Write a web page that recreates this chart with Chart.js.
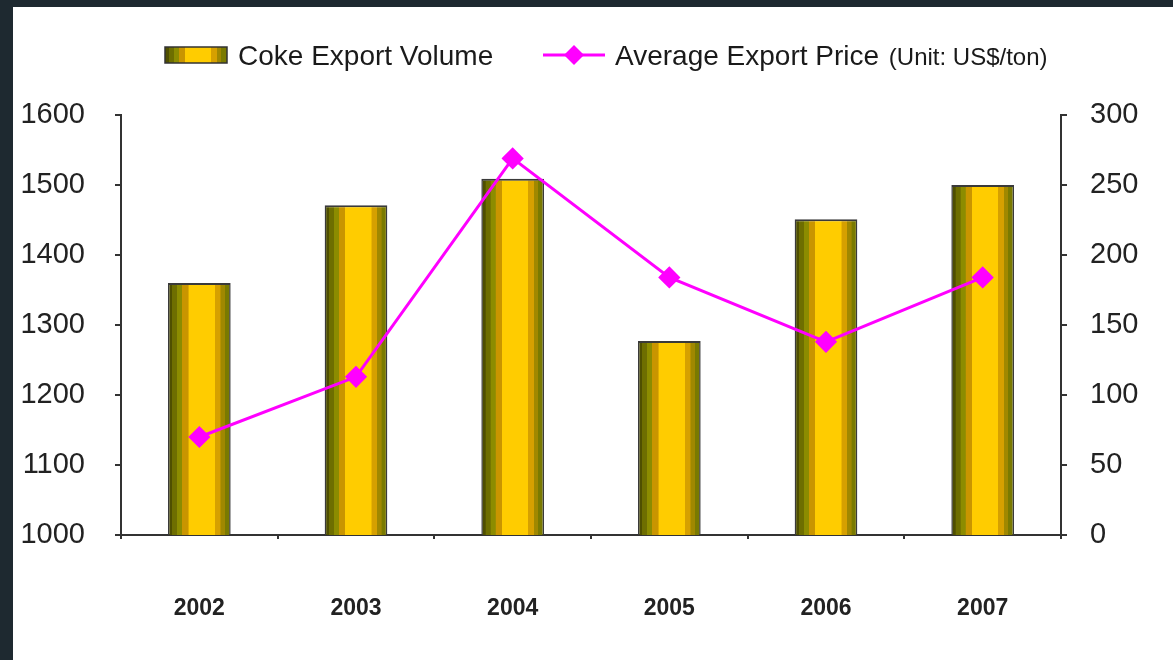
<!DOCTYPE html>
<html>
<head>
<meta charset="utf-8">
<script src="https://cdn.jsdelivr.net/npm/chart.js@4/dist/chart.umd.min.js"></script>
<style>
  html, body { margin: 0; padding: 0; background: #1e2930; width: 1173px; height: 660px; overflow: hidden; }
  #wrap { position: absolute; left: 13px; top: 7px; width: 1160px; height: 653px; background: #ffffff; }
</style>
</head>
<body>
<div id="wrap"><canvas id="c"></canvas></div>
<script>
const categories = ['2002', '2003', '2004', '2005', '2006', '2007'];
const exportVolume = [1360, 1471, 1509, 1277, 1451, 1500];
const exportPrice = [70, 113, 269, 184, 138, 184];
const leftTicks = [1000, 1100, 1200, 1300, 1400, 1500, 1600];
const rightTicks = [0, 50, 100, 150, 200, 250, 300];
const volumeLabel = 'Coke Export Volume';
const priceLabel = 'Average Export Price ';
const priceUnit = '(Unit: US$/ton)';

const BAR_FRACTION = 0.4;
const bands = [
  [0.00, '#4f4f00'], [0.07, '#6e6e00'], [0.15, '#8c8c00'], [0.23, '#c99500'],
  [0.33, '#ffcc00'], [0.68, '#ffcc00'], [0.75, '#d6a000'], [0.84, '#a08800'],
  [0.91, '#7a7a00'], [1.00, '#555500']
];
function barGradient(ctx, left, right) {
  const g = ctx.createLinearGradient(left, 0, right, 0);
  for (let i = 0; i < bands.length; i++) {
    g.addColorStop(bands[i][0], bands[i][1]);
    if (i < bands.length - 1) g.addColorStop(Math.max(bands[i][0], bands[i + 1][0] - 0.005), bands[i][1]);
  }
  return g;
}

const legendPlugin = {
  id: 'customLegend',
  afterDraw(chart) {
    const ctx = chart.ctx;
    ctx.save();
    const bx = 152, by = 40, bw = 62, bh = 16;
    ctx.fillStyle = barGradient(ctx, bx, bx + bw);
    ctx.fillRect(bx, by, bw, bh);
    ctx.strokeStyle = '#333';
    ctx.lineWidth = 1.5;
    ctx.strokeRect(bx, by, bw, bh);
    ctx.fillStyle = '#1a1a1a';
    ctx.textBaseline = 'middle';
    ctx.textAlign = 'left';
    ctx.font = '28px "Liberation Sans", Arial, sans-serif';
    ctx.fillText(volumeLabel, 225, 50);
    ctx.strokeStyle = '#ff00ff';
    ctx.lineWidth = 3;
    ctx.beginPath(); ctx.moveTo(530, 48); ctx.lineTo(592, 48); ctx.stroke();
    ctx.fillStyle = '#ff00ff';
    ctx.beginPath();
    ctx.moveTo(561, 38); ctx.lineTo(571, 48); ctx.lineTo(561, 58); ctx.lineTo(551, 48); ctx.closePath();
    ctx.fill();
    ctx.fillStyle = '#1a1a1a';
    ctx.font = '28px "Liberation Sans", Arial, sans-serif';
    ctx.fillText(priceLabel, 602, 50);
    const w = ctx.measureText(priceLabel).width;
    ctx.font = '24px "Liberation Sans", Arial, sans-serif';
    ctx.fillText(priceUnit, 602 + w + 2, 51);
    ctx.restore();
  }
};

const tickFont = { family: '"Liberation Sans", Arial, sans-serif', size: 29 };
const plain = (v) => String(v);

new Chart(document.getElementById('c'), {
  type: 'bar',
  data: {
    labels: categories,
    datasets: [
      {
        type: 'line',
        label: priceLabel + priceUnit,
        data: exportPrice,
        yAxisID: 'y1',
        borderColor: '#ff00ff',
        backgroundColor: '#ff00ff',
        borderWidth: 3,
        pointStyle: 'rectRot',
        pointRadius: 9,
        pointHoverRadius: 9,
        pointBackgroundColor: '#ff00ff',
        pointBorderColor: '#ff00ff',
        tension: 0,
        order: 0
      },
      {
        type: 'bar',
        label: volumeLabel,
        data: exportVolume,
        yAxisID: 'y',
        barPercentage: BAR_FRACTION,
        categoryPercentage: 1,
        borderColor: '#3a3a3a',
        borderWidth: { top: 2, left: 1.5, right: 1.5, bottom: 0 },
        borderSkipped: 'bottom',
        backgroundColor: (c) => {
          const chart = c.chart;
          const xs = chart.scales && chart.scales.x;
          if (!xs || c.type !== 'data' || !chart.chartArea) return '#ffcc00';
          const cx = xs.getPixelForValue(c.dataIndex);
          const w = (xs.width / categories.length) * BAR_FRACTION;
          return barGradient(chart.ctx, cx - w / 2, cx + w / 2);
        },
        order: 1
      }
    ]
  },
  options: {
    responsive: true,
    maintainAspectRatio: false,
    animation: false,
    layout: { padding: { top: 108, left: 0, right: 0, bottom: 0 } },
    plugins: { legend: { display: false }, tooltip: { enabled: false } },
    scales: {
      x: {
        offset: true,
        grid: { drawOnChartArea: false, drawTicks: true, tickLength: 4, color: '#333', lineWidth: 2, offset: true },
        border: { display: true, color: '#333', width: 2 },
        ticks: { color: '#222', padding: 56, font: { family: '"Liberation Sans", Arial, sans-serif', size: 23, weight: 'bold' } },
        afterFit: (s) => { s.height = 125; }
      },
      y: {
        position: 'left',
        min: 1000, max: 1600,
        afterBuildTicks: (s) => { s.ticks = leftTicks.map(v => ({ value: v })); },
        grid: { drawOnChartArea: false, drawTicks: true, tickLength: 6, color: '#333', lineWidth: 2 },
        border: { display: true, color: '#333', width: 2 },
        ticks: { color: '#222', padding: 30, font: tickFont, callback: plain },
        afterFit: (s) => { s.width = 108; }
      },
      y1: {
        position: 'right',
        min: 0, max: 300,
        afterBuildTicks: (s) => { s.ticks = rightTicks.map(v => ({ value: v })); },
        grid: { drawOnChartArea: false, drawTicks: true, tickLength: 6, color: '#333', lineWidth: 2 },
        border: { display: true, color: '#333', width: 2 },
        ticks: { color: '#222', padding: 23, font: tickFont, callback: plain },
        afterFit: (s) => { s.width = 112; }
      }
    }
  },
  plugins: [legendPlugin]
});
</script>
</body>
</html>
